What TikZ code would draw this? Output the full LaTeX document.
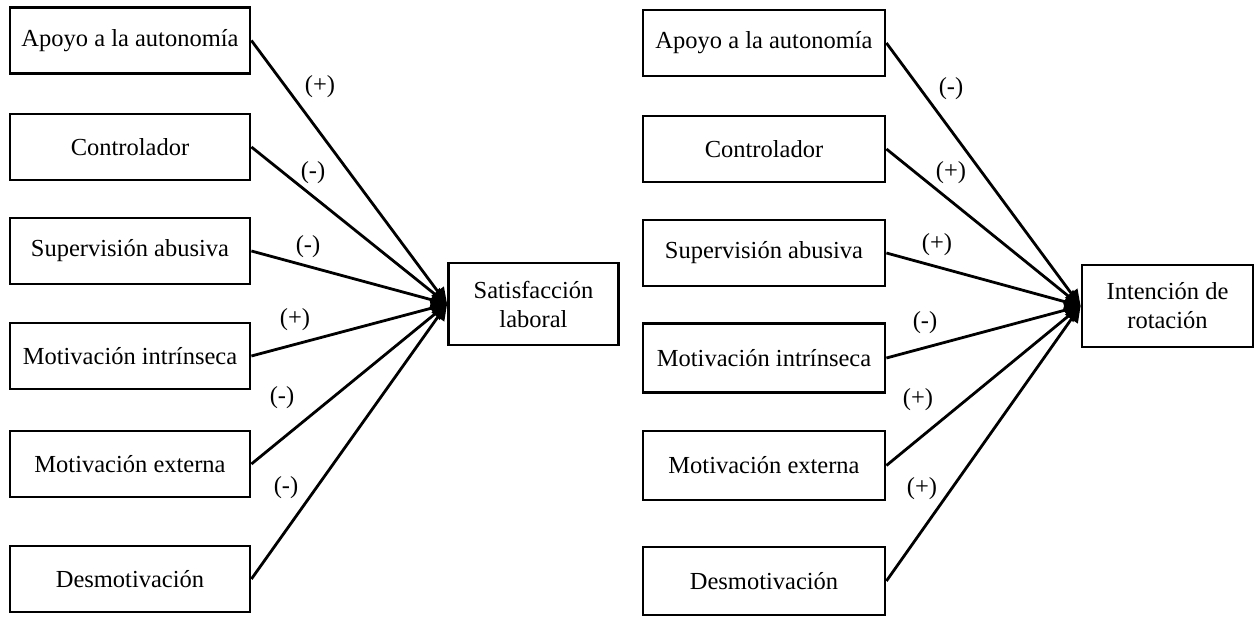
\documentclass[tikz,border=0pt]{standalone}
\usepackage{fontspec}
\setmainfont{Liberation Serif}
\usetikzlibrary{arrows.meta}
\begin{document}
\begin{tikzpicture}[x=1pt,y=-1pt,
  font=\fontsize{24.5}{29}\selectfont,
  src/.style={draw,line width=2.8pt,minimum width=240pt,minimum height=66pt,inner sep=0pt,anchor=center},
  tgt/.style={draw,line width=2.8pt,minimum width=170pt,minimum height=82pt,inner sep=0pt,align=center},
  lab/.style={inner sep=0pt},
  conn/.style={line width=2.8pt,-{Triangle[length=16pt,width=15pt]}}]
\useasboundingbox (0,0) rectangle (1258,617);
% left group
\node[src] (l1) at (130,40.5) {Apoyo a la autonomía};
\node[src] (l2) at (130,147) {Controlador};
\node[src] (l3) at (130,251) {Supervisión abusiva};
\node[src] (l4) at (130,356) {Motivación intrínseca};
\node[src] (l5) at (130,464) {Motivación externa};
\node[src] (l6) at (130,579) {Desmotivación};
\node[tgt] (lt) at (533.5,304) {Satisfacción\\laboral};
\foreach \i in {1,...,6} \draw[conn] (l\i.east) -- (lt.west);
\node[lab] (la1) at (320,87) {(+)};
\node[lab] (la2) at (313,173) {(-)};
\node[lab] (la3) at (308,247) {(-)};
\node[lab] (la4) at (295,320) {(+)};
\node[lab] (la5) at (282,398) {(-)};
\node[lab] (la6) at (286,488) {(-)};
% right group
\node[src,minimum width=242pt] (r1) at (764,43) {Apoyo a la autonomía};
\node[src,minimum width=242pt] (r2) at (764,149) {Controlador};
\node[src,minimum width=242pt] (r3) at (764,253) {Supervisión abusiva};
\node[src,minimum width=242pt,minimum height=69pt] (r4) at (764,358) {Motivación intrínseca};
\node[src,minimum width=242pt,minimum height=69pt] (r5) at (764,465.5) {Motivación externa};
\node[src,minimum width=242pt,minimum height=68pt] (r6) at (764,581) {Desmotivación};
\node[tgt,minimum width=171pt] (rt) at (1167.5,306) {Intención de\\rotación};
\foreach \i in {1,...,6} \draw[conn] (r\i.east) -- (rt.west);
\node[lab] (ra1) at (951,89) {(-)};
\node[lab] (ra2) at (951,173) {(+)};
\node[lab] (ra3) at (937,245) {(+)};
\node[lab] (ra4) at (925,323) {(-)};
\node[lab] (ra5) at (918,400) {(+)};
\node[lab] (ra6) at (922,489) {(+)};
\end{tikzpicture}
\end{document}
